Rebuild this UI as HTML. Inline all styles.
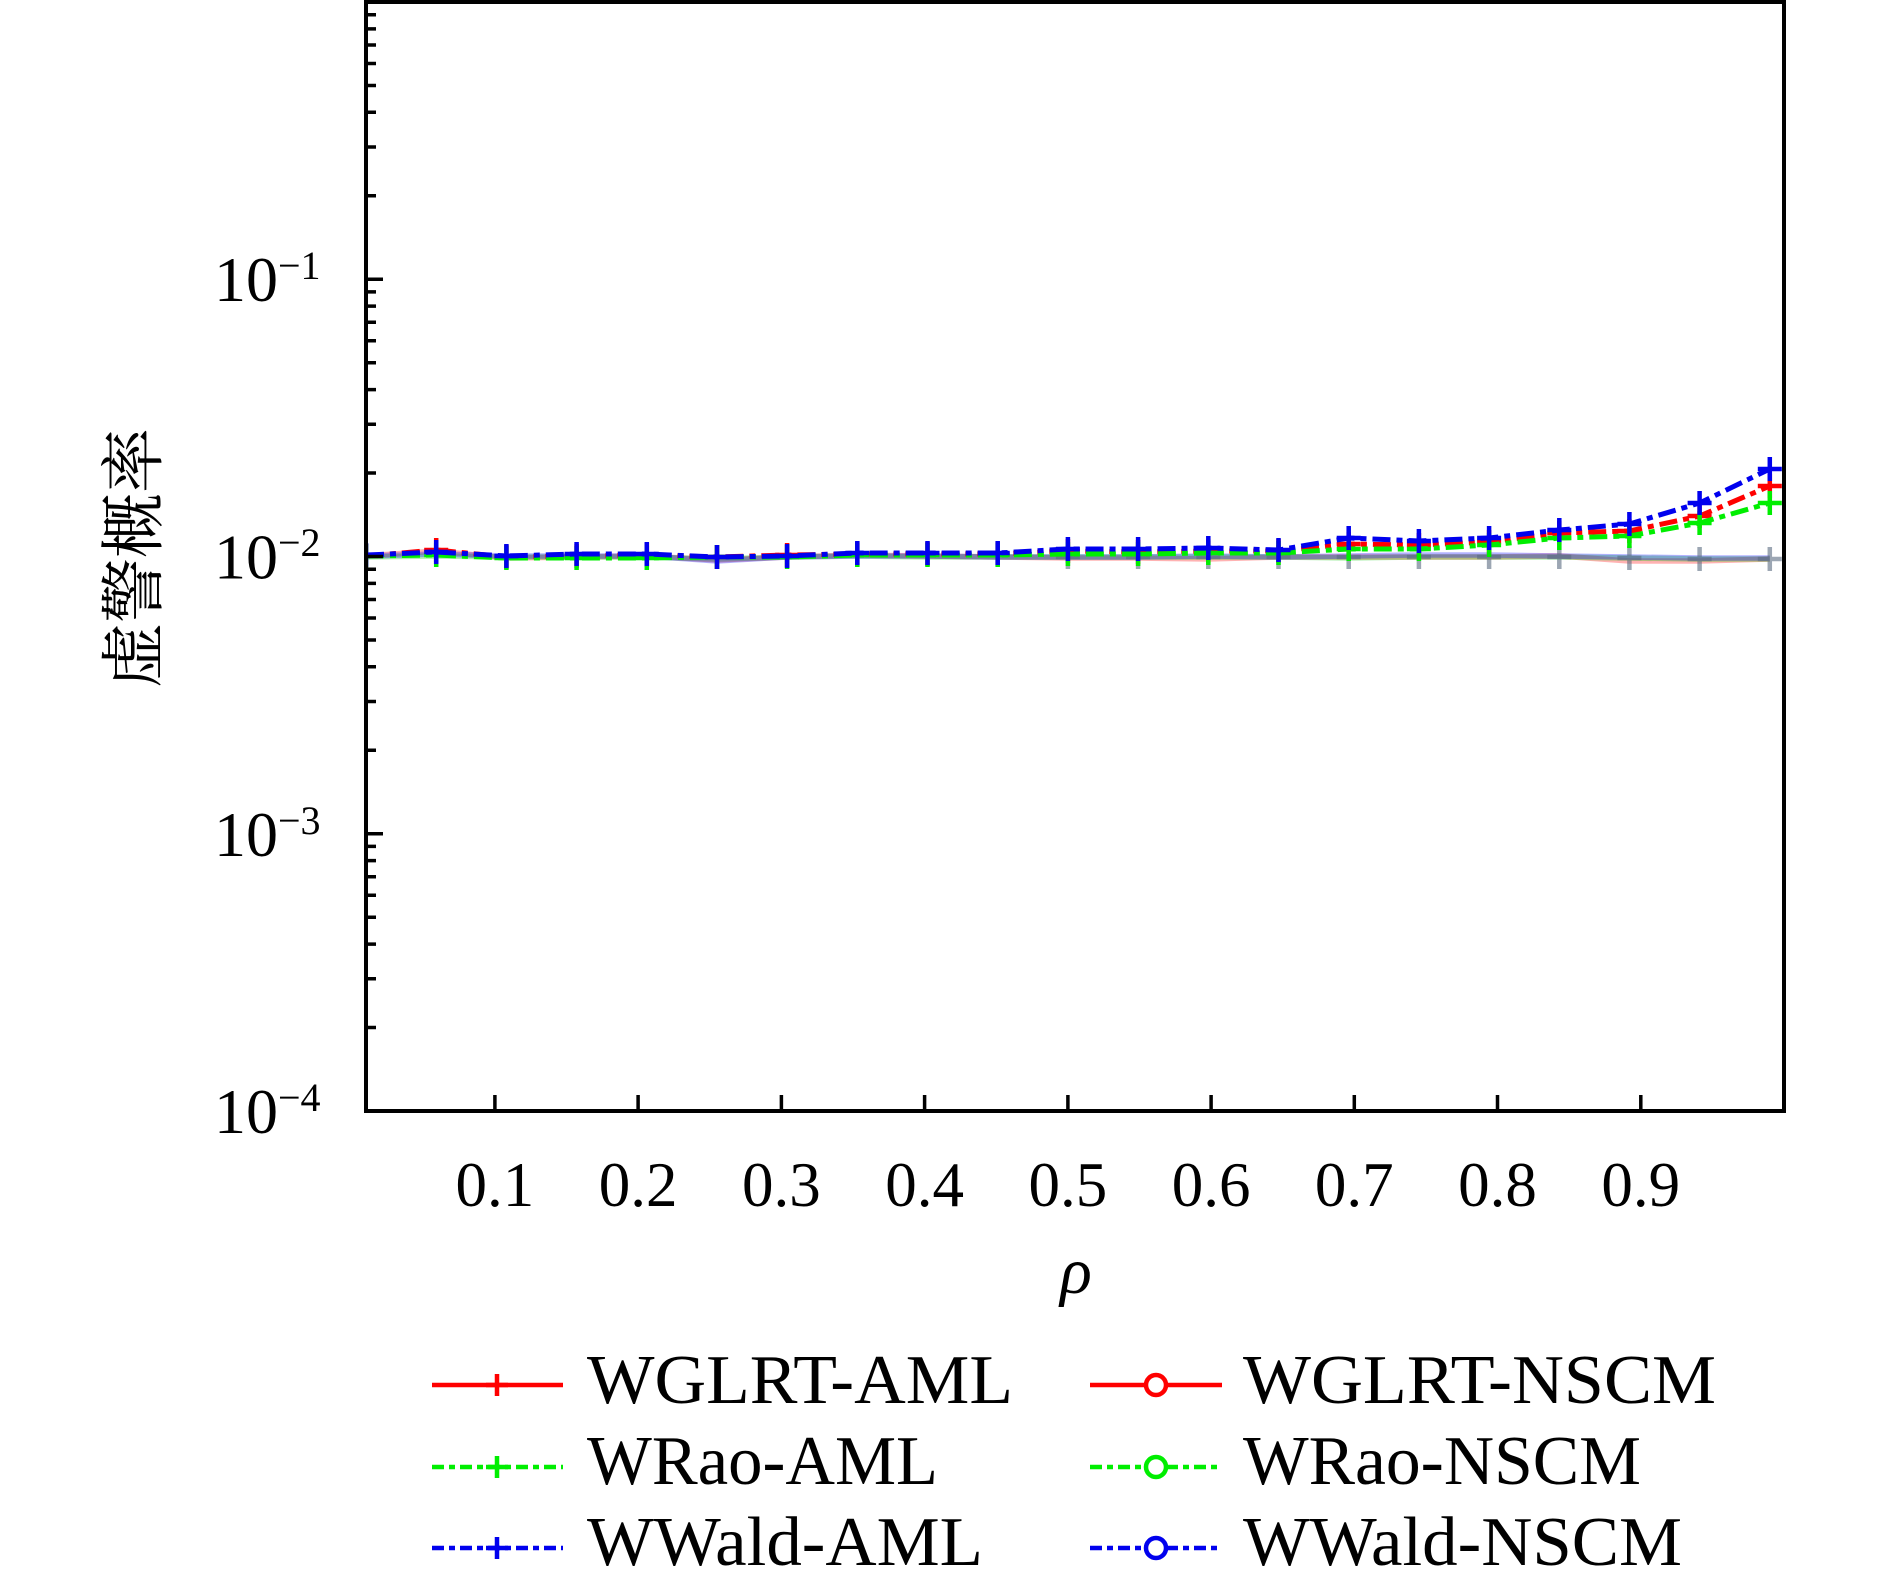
<!DOCTYPE html>
<html><head><meta charset="utf-8"><style>
html,body{margin:0;padding:0;background:#fff;}
svg{display:block;}
</style></head><body>
<svg width="1890" height="1581" viewBox="0 0 1890 1581" xmlns="http://www.w3.org/2000/svg">
<rect width="1890" height="1581" fill="#fff"/>
<defs>
<clipPath id="ax"><rect x="366" y="2" width="1418" height="1109"/></clipPath>
</defs>
<g clip-path="url(#ax)" fill="none" stroke-linejoin="round">
 <!-- faint NSCM series -->
 <polyline stroke="#ff0000" stroke-opacity="0.3" stroke-width="5.5" points="366,556 436.2,551 506.4,558 576.6,557 646.8,556 717,560 787.1,557 857.3,555 927.5,556 997.7,557 1067.9,558 1138.1,558 1208.3,559 1278.5,557 1348.7,557 1418.9,557 1489.1,557 1559.3,556 1629.4,561 1699.6,561 1769.8,559"/>
 <polyline stroke="#00cc00" stroke-opacity="0.3" stroke-width="5.5" points="366,557 436.2,556 506.4,557 576.6,557 646.8,557 717,559 787.1,557 857.3,556 927.5,557 997.7,557 1067.9,557 1138.1,557 1208.3,557 1278.5,557 1348.7,558 1418.9,557 1489.1,557 1559.3,557 1629.4,558 1699.6,559 1769.8,559"/>
 <polyline stroke="#0000ff" stroke-opacity="0.3" stroke-width="5.5" points="366,556 436.2,554 506.4,556 576.6,556 646.8,556 717,561 787.1,557 857.3,556 927.5,556 997.7,557 1067.9,557 1138.1,557 1208.3,556 1278.5,557 1348.7,556 1418.9,555 1489.1,555 1559.3,556 1629.4,557 1699.6,558 1769.8,558"/>
 <g stroke="#5a6a80" stroke-opacity="0.6" stroke-width="4.5">
  <path d="M1067.9,545v24M1055.9,557h24 M1138.1,545v24M1126.1,557h24 M1208.3,545v24M1196.3,557h24 M1278.5,545v24M1266.5,557h24 M1348.7,545v24M1336.7,557h24 M1418.9,545v24M1406.9,557h24 M1489.1,545v24M1477.1,557h24 M1559.3,545v24M1547.3,557h24 M1629.4,546v24M1617.4,558h24 M1699.6,547v24M1687.6,559h24 M1769.8,547v24M1757.8,559h24"/>
 </g>
 <!-- Red AML -->
 <polyline stroke="#ff0000" stroke-width="5" stroke-dasharray="18 6 6 6" points="366,556 436.2,550 506.4,557 576.6,556 646.8,555 717,557 787.1,555 857.3,554 927.5,554 997.7,554 1067.9,551 1138.1,552 1208.3,551 1278.5,551 1348.7,544 1418.9,545 1489.1,542 1559.3,533 1629.4,531 1699.6,516 1769.8,486"/>
 <path stroke="#ff0000" stroke-width="4.5" d="M366,544v24M354,556h24 M436.2,538v24M424.2,550h24 M506.4,545v24M494.4,557h24 M576.6,544v24M564.6,556h24 M646.8,543v24M634.8,555h24 M717,545v24M705,557h24 M787.1,543v24M775.1,555h24 M857.3,542v24M845.3,554h24 M927.5,542v24M915.5,554h24 M997.7,542v24M985.7,554h24 M1067.9,539v24M1055.9,551h24 M1138.1,540v24M1126.1,552h24 M1208.3,539v24M1196.3,551h24 M1278.5,539v24M1266.5,551h24 M1348.7,532v24M1336.7,544h24 M1418.9,533v24M1406.9,545h24 M1489.1,530v24M1477.1,542h24 M1559.3,521v24M1547.3,533h24 M1629.4,519v24M1617.4,531h24 M1699.6,504v24M1687.6,516h24 M1769.8,474v24M1757.8,486h24"/>
 <!-- Green AML -->
 <polyline stroke="#00ee00" stroke-width="5" stroke-dasharray="18 6 6 6" points="366,556 436.2,555 506.4,558 576.6,558 646.8,558 717,557 787.1,557 857.3,555 927.5,555 997.7,555 1067.9,554 1138.1,554 1208.3,553 1278.5,553 1348.7,549 1418.9,549 1489.1,545 1559.3,538 1629.4,536 1699.6,523 1769.8,503"/>
 <path stroke="#00ee00" stroke-width="4.5" d="M366,544v24M354,556h24 M436.2,543v24M424.2,555h24 M506.4,546v24M494.4,558h24 M576.6,546v24M564.6,558h24 M646.8,546v24M634.8,558h24 M717,545v24M705,557h24 M787.1,545v24M775.1,557h24 M857.3,543v24M845.3,555h24 M927.5,543v24M915.5,555h24 M997.7,543v24M985.7,555h24 M1067.9,542v24M1055.9,554h24 M1138.1,542v24M1126.1,554h24 M1208.3,541v24M1196.3,553h24 M1278.5,541v24M1266.5,553h24 M1348.7,537v24M1336.7,549h24 M1418.9,537v24M1406.9,549h24 M1489.1,533v24M1477.1,545h24 M1559.3,526v24M1547.3,538h24 M1629.4,524v24M1617.4,536h24 M1699.6,511v24M1687.6,523h24 M1769.8,491v24M1757.8,503h24"/>
 <!-- Blue AML -->
 <polyline stroke="#0000ee" stroke-width="5" stroke-dasharray="18 6 6 6" points="366,555 436.2,552 506.4,556 576.6,554 646.8,554 717,557 787.1,556 857.3,553 927.5,553 997.7,553 1067.9,549 1138.1,549 1208.3,548 1278.5,550 1348.7,538 1418.9,541 1489.1,538 1559.3,530 1629.4,524 1699.6,503 1769.8,469"/>
 <path stroke="#0000ee" stroke-width="4.5" d="M366,543v24M354,555h24 M436.2,540v24M424.2,552h24 M506.4,544v24M494.4,556h24 M576.6,542v24M564.6,554h24 M646.8,542v24M634.8,554h24 M717,545v24M705,557h24 M787.1,544v24M775.1,556h24 M857.3,541v24M845.3,553h24 M927.5,541v24M915.5,553h24 M997.7,541v24M985.7,553h24 M1067.9,537v24M1055.9,549h24 M1138.1,537v24M1126.1,549h24 M1208.3,536v24M1196.3,548h24 M1278.5,538v24M1266.5,550h24 M1348.7,526v24M1336.7,538h24 M1418.9,529v24M1406.9,541h24 M1489.1,526v24M1477.1,538h24 M1559.3,518v24M1547.3,530h24 M1629.4,512v24M1617.4,524h24 M1699.6,491v24M1687.6,503h24 M1769.8,457v24M1757.8,469h24"/>
</g>
<!-- ticks -->
<g stroke="#000" stroke-width="3.5" fill="none">
 <path d="M366,833.75h17 M366,556.5h17 M366,279.25h17"/>
 <path d="M366,1027.5h10 M366,978.7h10 M366,944.1h10 M366,917.2h10 M366,895.3h10 M366,876.7h10 M366,860.6h10 M366,846.4h10
 M366,750.3h10 M366,701.5h10 M366,666.8h10 M366,640h10 M366,618h10 M366,599.5h10 M366,583.4h10 M366,569.2h10
 M366,473h10 M366,424.2h10 M366,389.6h10 M366,362.7h10 M366,340.8h10 M366,322.2h10 M366,306.1h10 M366,291.9h10
 M366,195.8h10 M366,147h10 M366,112.3h10 M366,85.5h10 M366,63.5h10 M366,45h10 M366,28.9h10 M366,14.7h10"/>
 <path d="M494.9,1111v-16 M638.1,1111v-16 M781.4,1111v-16 M924.6,1111v-16 M1067.9,1111v-16 M1211.1,1111v-16 M1354.3,1111v-16 M1497.5,1111v-16 M1640.8,1111v-16"/>
</g>
<rect x="366" y="2" width="1418" height="1109" fill="none" stroke="#000" stroke-width="4"/>
<!-- y tick labels -->
<g font-family="'Liberation Serif', serif" fill="#000">
 <text x="278" y="301" font-size="64" text-anchor="end">10</text><text x="278" y="279" font-size="40">−1</text>
 <text x="278" y="578.5" font-size="64" text-anchor="end">10</text><text x="278" y="556" font-size="40">−2</text>
 <text x="278" y="856" font-size="64" text-anchor="end">10</text><text x="278" y="834" font-size="40">−3</text>
 <text x="278" y="1133" font-size="64" text-anchor="end">10</text><text x="278" y="1111" font-size="40">−4</text>
</g>
<!-- x tick labels -->
<g font-family="'Liberation Serif', serif" font-size="63" fill="#000" text-anchor="middle">
 <text x="494.9" y="1206">0.1</text>
 <text x="638.1" y="1206">0.2</text>
 <text x="781.4" y="1206">0.3</text>
 <text x="924.6" y="1206">0.4</text>
 <text x="1067.9" y="1206">0.5</text>
 <text x="1211.1" y="1206">0.6</text>
 <text x="1354.3" y="1206">0.7</text>
 <text x="1497.5" y="1206">0.8</text>
 <text x="1640.8" y="1206">0.9</text>
</g>
<text x="1076" y="1293" font-family="'Liberation Serif', serif" font-style="italic" font-size="66" text-anchor="middle" fill="#000">ρ</text>
<text transform="translate(135,558) rotate(-90)" font-family="'Liberation Serif','Noto Serif CJK SC','Noto Sans CJK SC',serif" font-size="65" text-anchor="middle" dominant-baseline="central" fill="#000">虚警概率</text>
<!-- legend -->
<g fill="none">
 <path d="M432,1385H563" stroke="#ff0000" stroke-width="4.5"/>
 <path d="M497,1374v22M486,1385h22" stroke="#ff0000" stroke-width="4.5"/>
 <path d="M432,1467H563" stroke="#00ee00" stroke-width="4.5" stroke-dasharray="12 5 6 5"/>
 <path d="M497,1456v22M486,1467h22" stroke="#00ee00" stroke-width="4.5"/>
 <path d="M432,1548H563" stroke="#0000ee" stroke-width="4.5" stroke-dasharray="12 5 6 5"/>
 <path d="M497,1537v22M486,1548h22" stroke="#0000ee" stroke-width="4.5"/>
 <path d="M1090,1385H1146 M1166,1385H1222" stroke="#ff0000" stroke-width="4.5"/>
 <circle cx="1156" cy="1385" r="10" stroke="#ff0000" stroke-width="4.5"/>
 <path d="M1090,1467H1146 M1166,1467H1222" stroke="#00ee00" stroke-width="4.5" stroke-dasharray="12 5 6 5"/>
 <circle cx="1156" cy="1467" r="10" stroke="#00ee00" stroke-width="4.5"/>
 <path d="M1090,1548H1146 M1166,1548H1222" stroke="#0000ee" stroke-width="4.5" stroke-dasharray="12 5 6 5"/>
 <circle cx="1156" cy="1548" r="10" stroke="#0000ee" stroke-width="4.5"/>
</g>
<g font-family="'Liberation Serif', serif" font-size="70" fill="#000">
 <text x="587" y="1403" textLength="426" lengthAdjust="spacingAndGlyphs">WGLRT-AML</text>
 <text x="587" y="1484" textLength="351" lengthAdjust="spacingAndGlyphs">WRao-AML</text>
 <text x="587" y="1565" textLength="396" lengthAdjust="spacingAndGlyphs">WWald-AML</text>
 <text x="1243" y="1403" textLength="473" lengthAdjust="spacingAndGlyphs">WGLRT-NSCM</text>
 <text x="1243" y="1484" textLength="398" lengthAdjust="spacingAndGlyphs">WRao-NSCM</text>
 <text x="1243" y="1565" textLength="439" lengthAdjust="spacingAndGlyphs">WWald-NSCM</text>
</g>
</svg>
</body></html>
